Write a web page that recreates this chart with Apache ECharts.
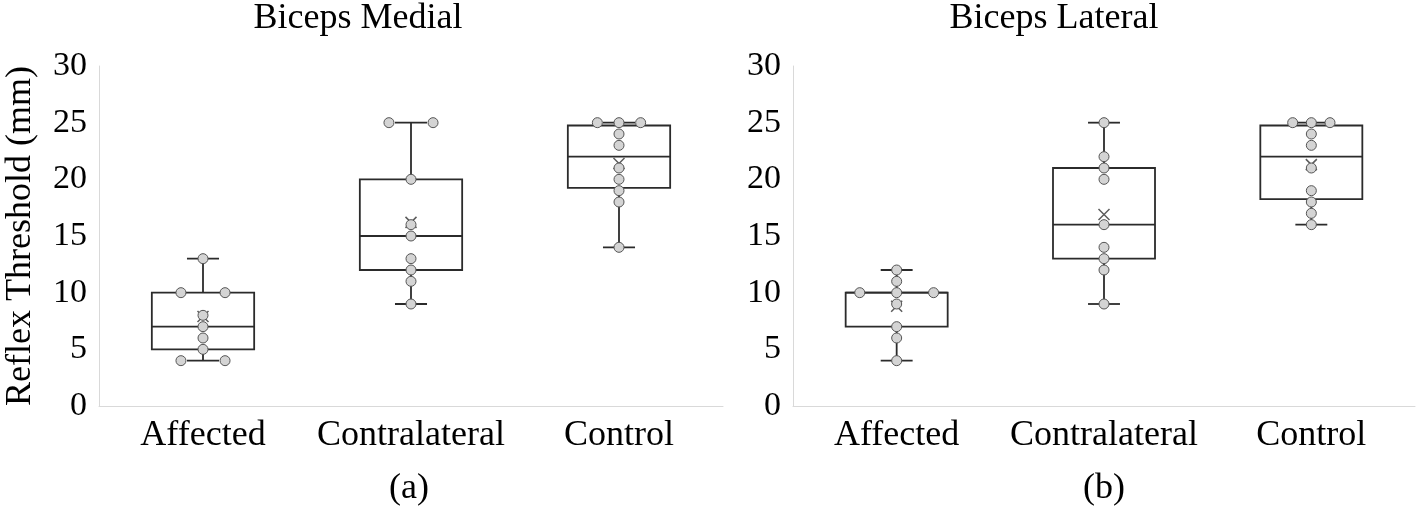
<!DOCTYPE html>
<html>
<head>
<meta charset="utf-8">
<script src="https://cdn.jsdelivr.net/npm/echarts@6/dist/echarts.min.js"></script>
<style>
html,body{margin:0;padding:0;background:#fff;}
#chart{width:1418px;height:509px;}
</style>
</head>
<body>
<div id="chart"></div>
<script>
// ---- data ----
var categories = ['Affected', 'Contralateral', 'Control'];
var yTicks = [0, 5, 10, 15, 20, 25, 30];

// individual observations
var medialPoints = [
  [4, 4, 5, 6, 7, 8, 10, 10, 13],
  [9, 11, 12, 13, 15, 16, 20, 25, 25],
  [14, 18, 19, 20, 21, 23, 24, 25, 25, 25]
];
var lateralPoints = [
  [4, 6, 7, 9, 10, 10, 10, 11, 12],
  [9, 12, 13, 14, 16, 20, 21, 22, 25],
  [16, 17, 18, 19, 21, 23, 24, 25, 25, 25]
];
// box statistics: [min, Q1, median, Q3, max]
var medialBox = [
  [4, 5, 7, 10, 13],
  [9, 12, 15, 20, 25],
  [14, 19.25, 22, 24.75, 25]
];
var lateralBox = [
  [4, 7, 10, 10, 12],
  [9, 13, 16, 21, 25],
  [16, 18.25, 22, 24.75, 25]
];
// means (x markers)
var medialMeans = [7.9, 16.2, 21.4];
var lateralMeans = [8.8, 16.9, 21.3];

var panelTitles = ['Biceps Medial', 'Biceps Lateral'];
var panelLabels = ['(a)', '(b)'];
var yAxisTitle = 'Reflex Threshold (mm)';

// ---- styling / layout ----
var FONT = "'Liberation Serif', 'Times New Roman', serif";
var LINE = '#2b2b2b';
var jitterStep = [[0.106, 0.106, 0.104], [0.178, 0.106, 0.09]]; // horizontal spread for tied values

function jitter(groups, panel) {
  var out = [];
  groups.forEach(function (vals, ci) {
    var counts = {};
    vals.forEach(function (v) { counts[v] = (counts[v] || 0) + 1; });
    var seen = {};
    vals.forEach(function (v) {
      var n = counts[v];
      var k = seen[v] || 0; seen[v] = k + 1;
      var off = 0;
      if (n === 2) off = (k === 0 ? -1 : 1) * jitterStep[panel][ci];
      else if (n >= 3) off = (k - (n - 1) / 2) * jitterStep[panel][ci];
      out.push([ci + off, v]);
    });
  });
  return out;
}

function boxSeries(stats, axisIdx) {
  return {
    type: 'custom',
    xAxisIndex: axisIdx * 2,
    yAxisIndex: axisIdx,
    z: 2,
    data: stats.map(function (s, i) { return [i].concat(s); }),
    renderItem: function (params, api) {
      var i = api.value(0);
      var band = api.size([1, 0])[0];
      var pMin = api.coord([i, api.value(1)]);
      var pQ1 = api.coord([i, api.value(2)]);
      var pMed = api.coord([i, api.value(3)]);
      var pQ3 = api.coord([i, api.value(4)]);
      var pMax = api.coord([i, api.value(5)]);
      var cx = pMed[0];
      var hw = band * 0.246;
      var cw = band * 0.077;
      var st = { stroke: LINE, lineWidth: 1.8, fill: null };
      return {
        type: 'group',
        children: [
          { type: 'line', shape: { x1: cx, y1: pQ3[1], x2: cx, y2: pMax[1] }, style: st },
          { type: 'line', shape: { x1: cx, y1: pQ1[1], x2: cx, y2: pMin[1] }, style: st },
          { type: 'line', shape: { x1: cx - cw, y1: pMax[1], x2: cx + cw, y2: pMax[1] }, style: st },
          { type: 'line', shape: { x1: cx - cw, y1: pMin[1], x2: cx + cw, y2: pMin[1] }, style: st },
          { type: 'rect', shape: { x: cx - hw, y: pQ3[1], width: 2 * hw, height: pQ1[1] - pQ3[1] },
            style: { stroke: LINE, lineWidth: 1.8, fill: '#fff' } },
          { type: 'line', shape: { x1: cx - hw, y1: pMed[1], x2: cx + hw, y2: pMed[1] }, style: st }
        ]
      };
    }
  };
}

var xMark = 'path://M0,0L10,10M10,0L0,10';

function meanSeries(means, axisIdx) {
  return {
    type: 'scatter',
    xAxisIndex: axisIdx * 2 + 1,
    yAxisIndex: axisIdx,
    z: 3,
    symbol: xMark,
    symbolSize: 11,
    itemStyle: { color: 'rgba(0,0,0,0)', borderColor: '#333', borderWidth: 1.5 },
    data: means.map(function (m, i) { return [i, m]; }),
    silent: true
  };
}

function pointSeries(points, panel) {
  return {
    type: 'scatter',
    xAxisIndex: panel * 2 + 1,
    yAxisIndex: panel,
    z: 4,
    symbol: 'circle',
    symbolSize: 10,
    itemStyle: { color: '#d4d4d4', borderColor: '#555', borderWidth: 1, opacity: 1 },
    data: jitter(points, panel),
    silent: true
  };
}

var grids = [
  { left: 99, top: 66, width: 624, height: 340 },
  { left: 793, top: 66, width: 622, height: 340 }
];

function catAxis(g) {
  return {
    type: 'category', gridIndex: g, data: categories,
    axisLine: { show: true, onZero: false, lineStyle: { color: '#d9d9d9', width: 1 } },
    axisTick: { show: false },
    axisLabel: { fontFamily: FONT, fontSize: 36, color: '#000', margin: 12, interval: 0 },
    splitLine: { show: false }
  };
}
function valXAxis(g) {
  return { type: 'value', gridIndex: g, min: -0.5, max: 2.5, show: false, splitLine: { show: false } };
}
function yAxis(g, withName) {
  var ax = {
    type: 'value', gridIndex: g, min: yTicks[0], max: yTicks[yTicks.length - 1], interval: 5,
    axisLine: { show: true, onZero: false, lineStyle: { color: '#d9d9d9', width: 1 } },
    axisTick: { show: false },
    splitLine: { show: false },
    axisLabel: { fontFamily: FONT, fontSize: 34, color: '#000', margin: 12 }
  };
  if (withName) {
    ax.name = yAxisTitle;
    ax.nameLocation = 'middle';
    ax.nameGap = 60;
    ax.nameTextStyle = { fontFamily: FONT, fontSize: 36, color: '#000' };
  }
  return ax;
}

var chart = echarts.init(document.getElementById('chart'), null, { renderer: 'canvas' });
chart.setOption({
  backgroundColor: '#fff',
  animation: false,
  grid: grids,
  xAxis: [catAxis(0), valXAxis(0), catAxis(1), valXAxis(1)],
  yAxis: [yAxis(0, true), yAxis(1, false)],
  graphic: [
    { type: 'text', x: 358, y: 19, style: { text: panelTitles[0], font: '36px ' + FONT, fill: '#000', textAlign: 'center', textVerticalAlign: 'middle' } },
    { type: 'text', x: 1054, y: 19, style: { text: panelTitles[1], font: '36px ' + FONT, fill: '#000', textAlign: 'center', textVerticalAlign: 'middle' } },
    { type: 'text', x: 409, y: 489, style: { text: panelLabels[0], font: '36px ' + FONT, fill: '#000', textAlign: 'center', textVerticalAlign: 'middle' } },
    { type: 'text', x: 1104, y: 489, style: { text: panelLabels[1], font: '36px ' + FONT, fill: '#000', textAlign: 'center', textVerticalAlign: 'middle' } }
  ],
  series: [
    boxSeries(medialBox, 0), meanSeries(medialMeans, 0), pointSeries(medialPoints, 0),
    boxSeries(lateralBox, 1), meanSeries(lateralMeans, 1), pointSeries(lateralPoints, 1)
  ]
});
</script>
</body>
</html>
